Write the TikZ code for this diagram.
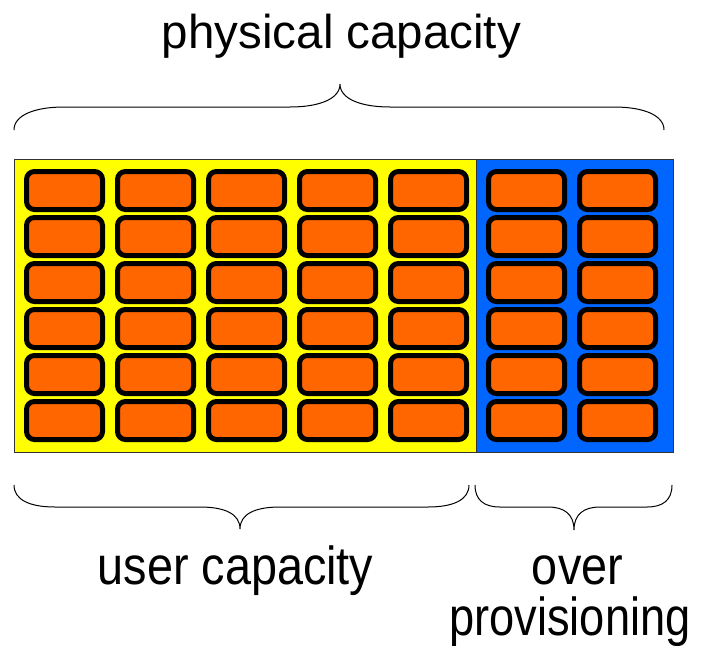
\documentclass[tikz,border=0pt]{standalone}
\usepackage{fontspec}
\setmainfont{Liberation Sans}
\definecolor{cellorange}{HTML}{FF6600}
\definecolor{areayellow}{HTML}{FFFF00}
\definecolor{areablue}{HTML}{0066FF}
\newcommand{\narrowtext}[1]{\scalebox{0.875}[1]{#1}}
\tikzset{
  cellbox/.style={draw=black, line width=5pt, rounded corners=8pt, fill=cellorange,
    minimum width=76pt, minimum height=38pt, inner sep=0pt, outer sep=0pt},
  area/.style={draw=black!80, line width=0.8pt},
  bracepath/.style={draw=black, line width=1pt},
  toplabel/.style={font=\fontsize{47.5}{50}\selectfont, anchor=base, inner sep=0pt},
  botlabel/.style={font=\fontsize{53.5}{56}\selectfont, anchor=base, inner sep=0pt}
}
\begin{document}
\begin{tikzpicture}[x=1pt,y=-1pt]
\useasboundingbox (0,0) rectangle (706,645);
% areas
\node[area, fill=areayellow, anchor=north west, minimum width=462pt, minimum height=293pt, inner sep=0pt] (user) at (14,159) {};
\node[area, fill=areablue, anchor=north west, minimum width=197pt, minimum height=293pt, inner sep=0pt] (over) at (476,159) {};
% cells
\foreach \i in {0,...,4}{
  \foreach \j in {0,...,5}{
    \node[cellbox] (u\i\j) at ({64.5+91*\i},{190.5+46*\j}) {};
  }
}
\foreach \i/\x in {0/526.5,1/617.5}{
  \foreach \j in {0,...,5}{
    \node[cellbox] (o\i\j) at (\x,{190.5+46*\j}) {};
  }
}
% top brace
\draw[bracepath] (14,130) .. controls (14,115) and (35,107) .. (64,107) -- (290,107)
  .. controls (319,107) and (340,99) .. (340,84)
  .. controls (340,99) and (361,107) .. (390,107) -- (614,107)
  .. controls (643,107) and (664,115) .. (664,130);
% bottom left brace
\draw[bracepath] (14,485) .. controls (14,500) and (30,507) .. (55,507) -- (200,507)
  .. controls (225,507) and (240,514) .. (240,529)
  .. controls (240,514) and (255,507) .. (280,507) -- (428,507)
  .. controls (453,507) and (469,500) .. (469,485);
% bottom right brace
\draw[bracepath] (475,485) .. controls (475,500) and (484,507) .. (500,507) -- (548,507)
  .. controls (564,507) and (574,514) .. (574,530)
  .. controls (574,514) and (584,507) .. (600,507) -- (647,507)
  .. controls (663,507) and (672,500) .. (672,485);
% labels
\node[toplabel] (tphys) at (341.5,48) {physical capacity};
\node[botlabel] (tuser) at (235.5,584) {\narrowtext{user capacity}};
\node[botlabel] (tover) at (577.5,584) {\narrowtext{over}};
\node[botlabel] (tprov) at (570,635) {\scalebox{0.845}[1]{provisioning}};
\end{tikzpicture}
\end{document}
